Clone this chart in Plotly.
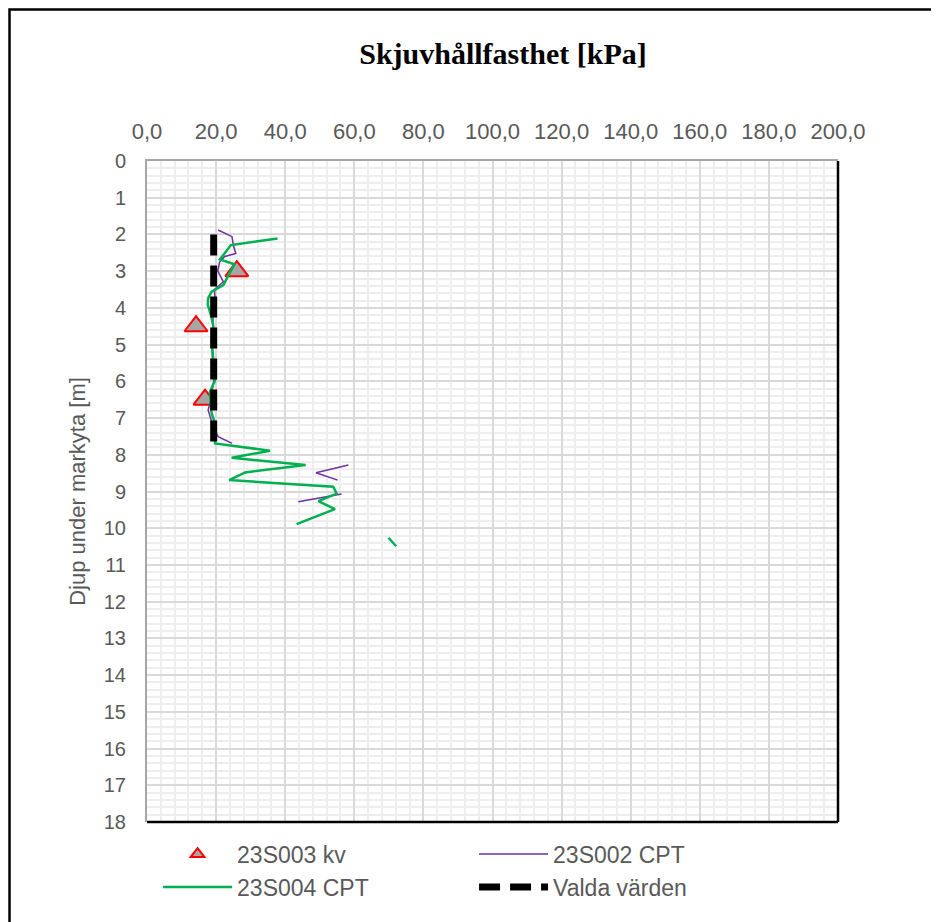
import plotly.graph_objects as go

# ---- data ----
kv_depth = [3.0, 4.5, 6.5]
kv_su = [26.0, 14.2, 16.8]

s002_depth = [1.88, 2.06, 2.30, 2.52, 2.60, 2.75, 3.00, 3.29, 3.50, 3.80, 4.10, 4.50, 5.00, 5.50,
              6.00, 6.50, 6.78, 7.10, 7.51, 7.69, None, 8.28, 8.49, 8.69, None, 9.07, 9.28]
s002_su = [20.6, 24.6, 25.0, 25.7, 22.5, 21.0, 20.5, 22.1, 19.5, 19.7, 19.2, 19.0, 18.8, 19.0,
           19.3, 18.5, 17.7, 18.7, 20.6, 24.6, None, 58.3, 48.9, 55.2, None, 56.3, 43.8]

s004_depth = [2.11, 2.29, 2.68, 2.81, 3.38, 3.56, 3.74, 3.92, 4.20, 4.50, 4.88, 5.33, 5.97, 6.29,
              6.87, 7.15, 7.69, 7.89, 8.08, 8.28, 8.48, 8.69, 8.87, 9.06, 9.26, 9.48, 9.67, 9.89,
              None, 10.26, 10.49]
s004_su = [37.8, 24.3, 21.1, 25.3, 22.1, 18.7, 17.7, 17.6, 18.5, 19.2, 18.7, 19.2, 19.7, 18.2,
           18.7, 19.7, 19.7, 35.6, 24.5, 45.9, 28.4, 23.8, 53.9, 54.9, 49.6, 54.4, 49.1, 43.3,
           None, 69.9, 72.1]

valda_depth = [2.0, 7.7]
valda_su = [19.3, 19.3]

x_ticks = [0, 20, 40, 60, 80, 100, 120, 140, 160, 180, 200]
y_ticks = list(range(0, 19))

FONT = "Arial, Liberation Sans, sans-serif"
GREY = "#595959"
BODY = 8  # default page margin of the html body

# plot area in page pixels
PL, PT, PR, PB = 147, 161, 838, 822
W, H = 939 - BODY, 922 - BODY
PW, PH = PR - PL, PB - PT

fig = go.Figure()
fig.add_trace(go.Scatter(
    x=kv_su, y=kv_depth, mode="markers", name="23S003 kv", showlegend=False,
    legendgroup="kv",
    marker=dict(symbol="triangle-up", size=20, color="#a6a6a6",
                line=dict(color="#ff0000", width=2))))
# legend entry for the kv markers (smaller symbol, as in the reference legend)
fig.add_trace(go.Scatter(
    x=[None], y=[None], mode="markers", name="23S003 kv", legendgroup="kv",
    marker=dict(symbol="triangle-up", size=12, color="#a6a6a6",
                line=dict(color="#ff0000", width=2))))
fig.add_trace(go.Scatter(
    x=s002_su, y=s002_depth, mode="lines", name="23S002 CPT",
    line=dict(color="#7030a0", width=1.5), connectgaps=False))
fig.add_trace(go.Scatter(
    x=s004_su, y=s004_depth, mode="lines", name="23S004 CPT",
    line=dict(color="#00b050", width=2.5), connectgaps=False))
fig.add_trace(go.Scatter(
    x=valda_su, y=valda_depth, mode="lines", name="Valda värden",
    line=dict(color="#000000", width=7, dash="21px,10px")))

fig.update_layout(
    width=W, height=H,
    margin=dict(l=PL - BODY, r=W + BODY - PR, t=PT - BODY, b=H + BODY - PB),
    paper_bgcolor="white", plot_bgcolor="white",
    separators=", ",
    title=dict(text="<b>Skjuvhållfasthet [kPa]</b>", x=(503 - BODY) / W, xanchor="center",
               y=1 - (53 - BODY) / H, yanchor="middle",
               font=dict(family="Times New Roman, Liberation Serif, serif", size=30, color="#000000")),
    showlegend=True,
    legend=dict(orientation="h", x=0.016, xanchor="left", y=-0.016, yanchor="top",
                entrywidth=232, itemwidth=69,
                font=dict(family=FONT, size=23, color=GREY),
                bgcolor="rgba(0,0,0,0)", tracegroupgap=0),
    xaxis=dict(side="top", range=[0, 200], tickvals=x_ticks, tickformat=".1f",
               showgrid=True, gridcolor="#d9d9d9", gridwidth=1.5,
               minor=dict(dtick=4, showgrid=True, gridcolor="#eeeeee", gridwidth=2),
               showline=True, linecolor="#a6a6a6", linewidth=2,
               ticks="outside", ticklen=11, tickcolor="rgba(0,0,0,0)",
               tickfont=dict(family=FONT, size=22, color=GREY), zeroline=False),
    yaxis=dict(range=[18, 0], tickvals=y_ticks,
               showgrid=True, gridcolor="#d9d9d9", gridwidth=1.5,
               minor=dict(dtick=0.2, showgrid=True, gridcolor="#eeeeee", gridwidth=2),
               showline=True, linecolor="#a6a6a6", linewidth=2,
               ticks="outside", ticklen=15, tickcolor="rgba(0,0,0,0)",
               tickfont=dict(family=FONT, size=20, color=GREY), zeroline=False,
               title=dict(text="Djup under markyta [m]", standoff=12,
                          font=dict(family=FONT, size=22, color=GREY))),
)

# right & bottom frame of plot area (black), outer chart border
fig.add_shape(type="line", xref="paper", yref="paper", x0=1, x1=1, y0=0, y1=1,
              line=dict(color="#000000", width=2.5))
fig.add_shape(type="line", xref="paper", yref="paper", x0=0, x1=1, y0=0, y1=0,
              line=dict(color="#000000", width=2.5))
fig.add_shape(type="rect", xref="paper", yref="paper",
              x0=(9.5 - PL) / PW, x1=1.3, y0=-0.3, y1=(PB - 9.5) / PH,
              line=dict(color="#000000", width=2.5), fillcolor="rgba(0,0,0,0)", layer="above")

fig.write_html("out.html")
